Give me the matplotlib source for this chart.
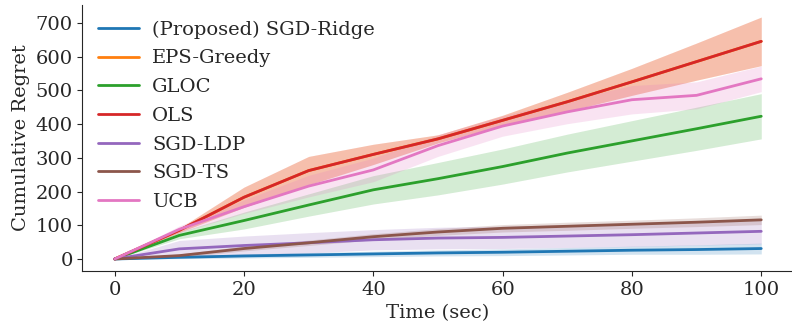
import numpy as np
import matplotlib.pyplot as plt
import seaborn as sns

sns.set_style("ticks")
plt.rcParams['font.family'] = ['DejaVu Serif']

t = [0, 10, 20, 30, 40, 50, 60, 70, 80, 90, 100]

names = ['(Proposed) SGD-Ridge', 'EPS-Greedy', 'GLOC', 'OLS', 'SGD-LDP', 'SGD-TS', 'UCB']

# mean regret per method
ridge_mean = [0, 5, 9, 12, 15, 18, 20, 23, 26, 28, 31]
eps_mean = [0, 85, 183, 262, 310, 356, 411, 466, 525, 585, 645]
gloc_mean = [0, 70, 114, 160, 205, 238, 274, 314, 350, 386, 423]
ols_mean = [0, 85, 183, 262, 310, 356, 411, 466, 525, 585, 645]
ldp_mean = [0, 30, 40, 48, 57, 62, 64, 68, 72, 77, 82]
ts_mean = [0, 10, 31, 48, 66, 80, 91, 97, 103, 109, 116]
ucb_mean = [0, 88, 155, 216, 264, 336, 394, 436, 472, 485, 534]

# spread (shaded band half width)
ridge_sd = [0, 4, 6, 7, 8, 9, 10, 11, 12, 14, 16]
eps_sd = [0, 6, 30, 42, 30, 12, 15, 28, 40, 55, 72]
gloc_sd = [0, 10, 25, 33, 42, 48, 52, 56, 60, 64, 67]
ols_sd = [0, 6, 30, 42, 30, 12, 15, 28, 40, 55, 72]
ldp_sd = [0, 25, 28, 30, 30, 32, 33, 34, 35, 36, 37]
ts_sd = [0, 5, 7, 8, 9, 10, 11, 12, 12, 13, 14]
ucb_sd = [0, 10, 20, 32, 35, 32, 30, 35, 42, 40, 38]

means = [ridge_mean, eps_mean, gloc_mean, ols_mean, ldp_mean, ts_mean, ucb_mean]
sds = [ridge_sd, eps_sd, gloc_sd, ols_sd, ldp_sd, ts_sd, ucb_sd]
colors = sns.color_palette("tab10", 7)

fig = plt.figure(figsize=(7.92, 3.31), dpi=100)
ax = fig.add_axes([0.104, 0.181, 0.898, 0.804])

x = np.array(t)
for name, m, s, c in zip(names, means, sds, colors):
    m = np.array(m, dtype=float)
    s = np.array(s, dtype=float)
    ax.plot(x, m, color=c, lw=2, label=name)
    ax.fill_between(x, m - s, m + s, color=c, alpha=0.2, lw=0)

ax.set_xlabel('Time (sec)', fontsize=14)
ax.set_ylabel('Cumulative Regret', fontsize=14)
ax.tick_params(labelsize=14)
ax.set_yticks(range(0, 701, 100))
ax.legend(loc='upper left', frameon=False, fontsize=14, handlelength=2.1,
          handletextpad=0.7, labelspacing=0.55, borderaxespad=0.4)
sns.despine(ax=ax)

fig.savefig('out.png', dpi=100)
